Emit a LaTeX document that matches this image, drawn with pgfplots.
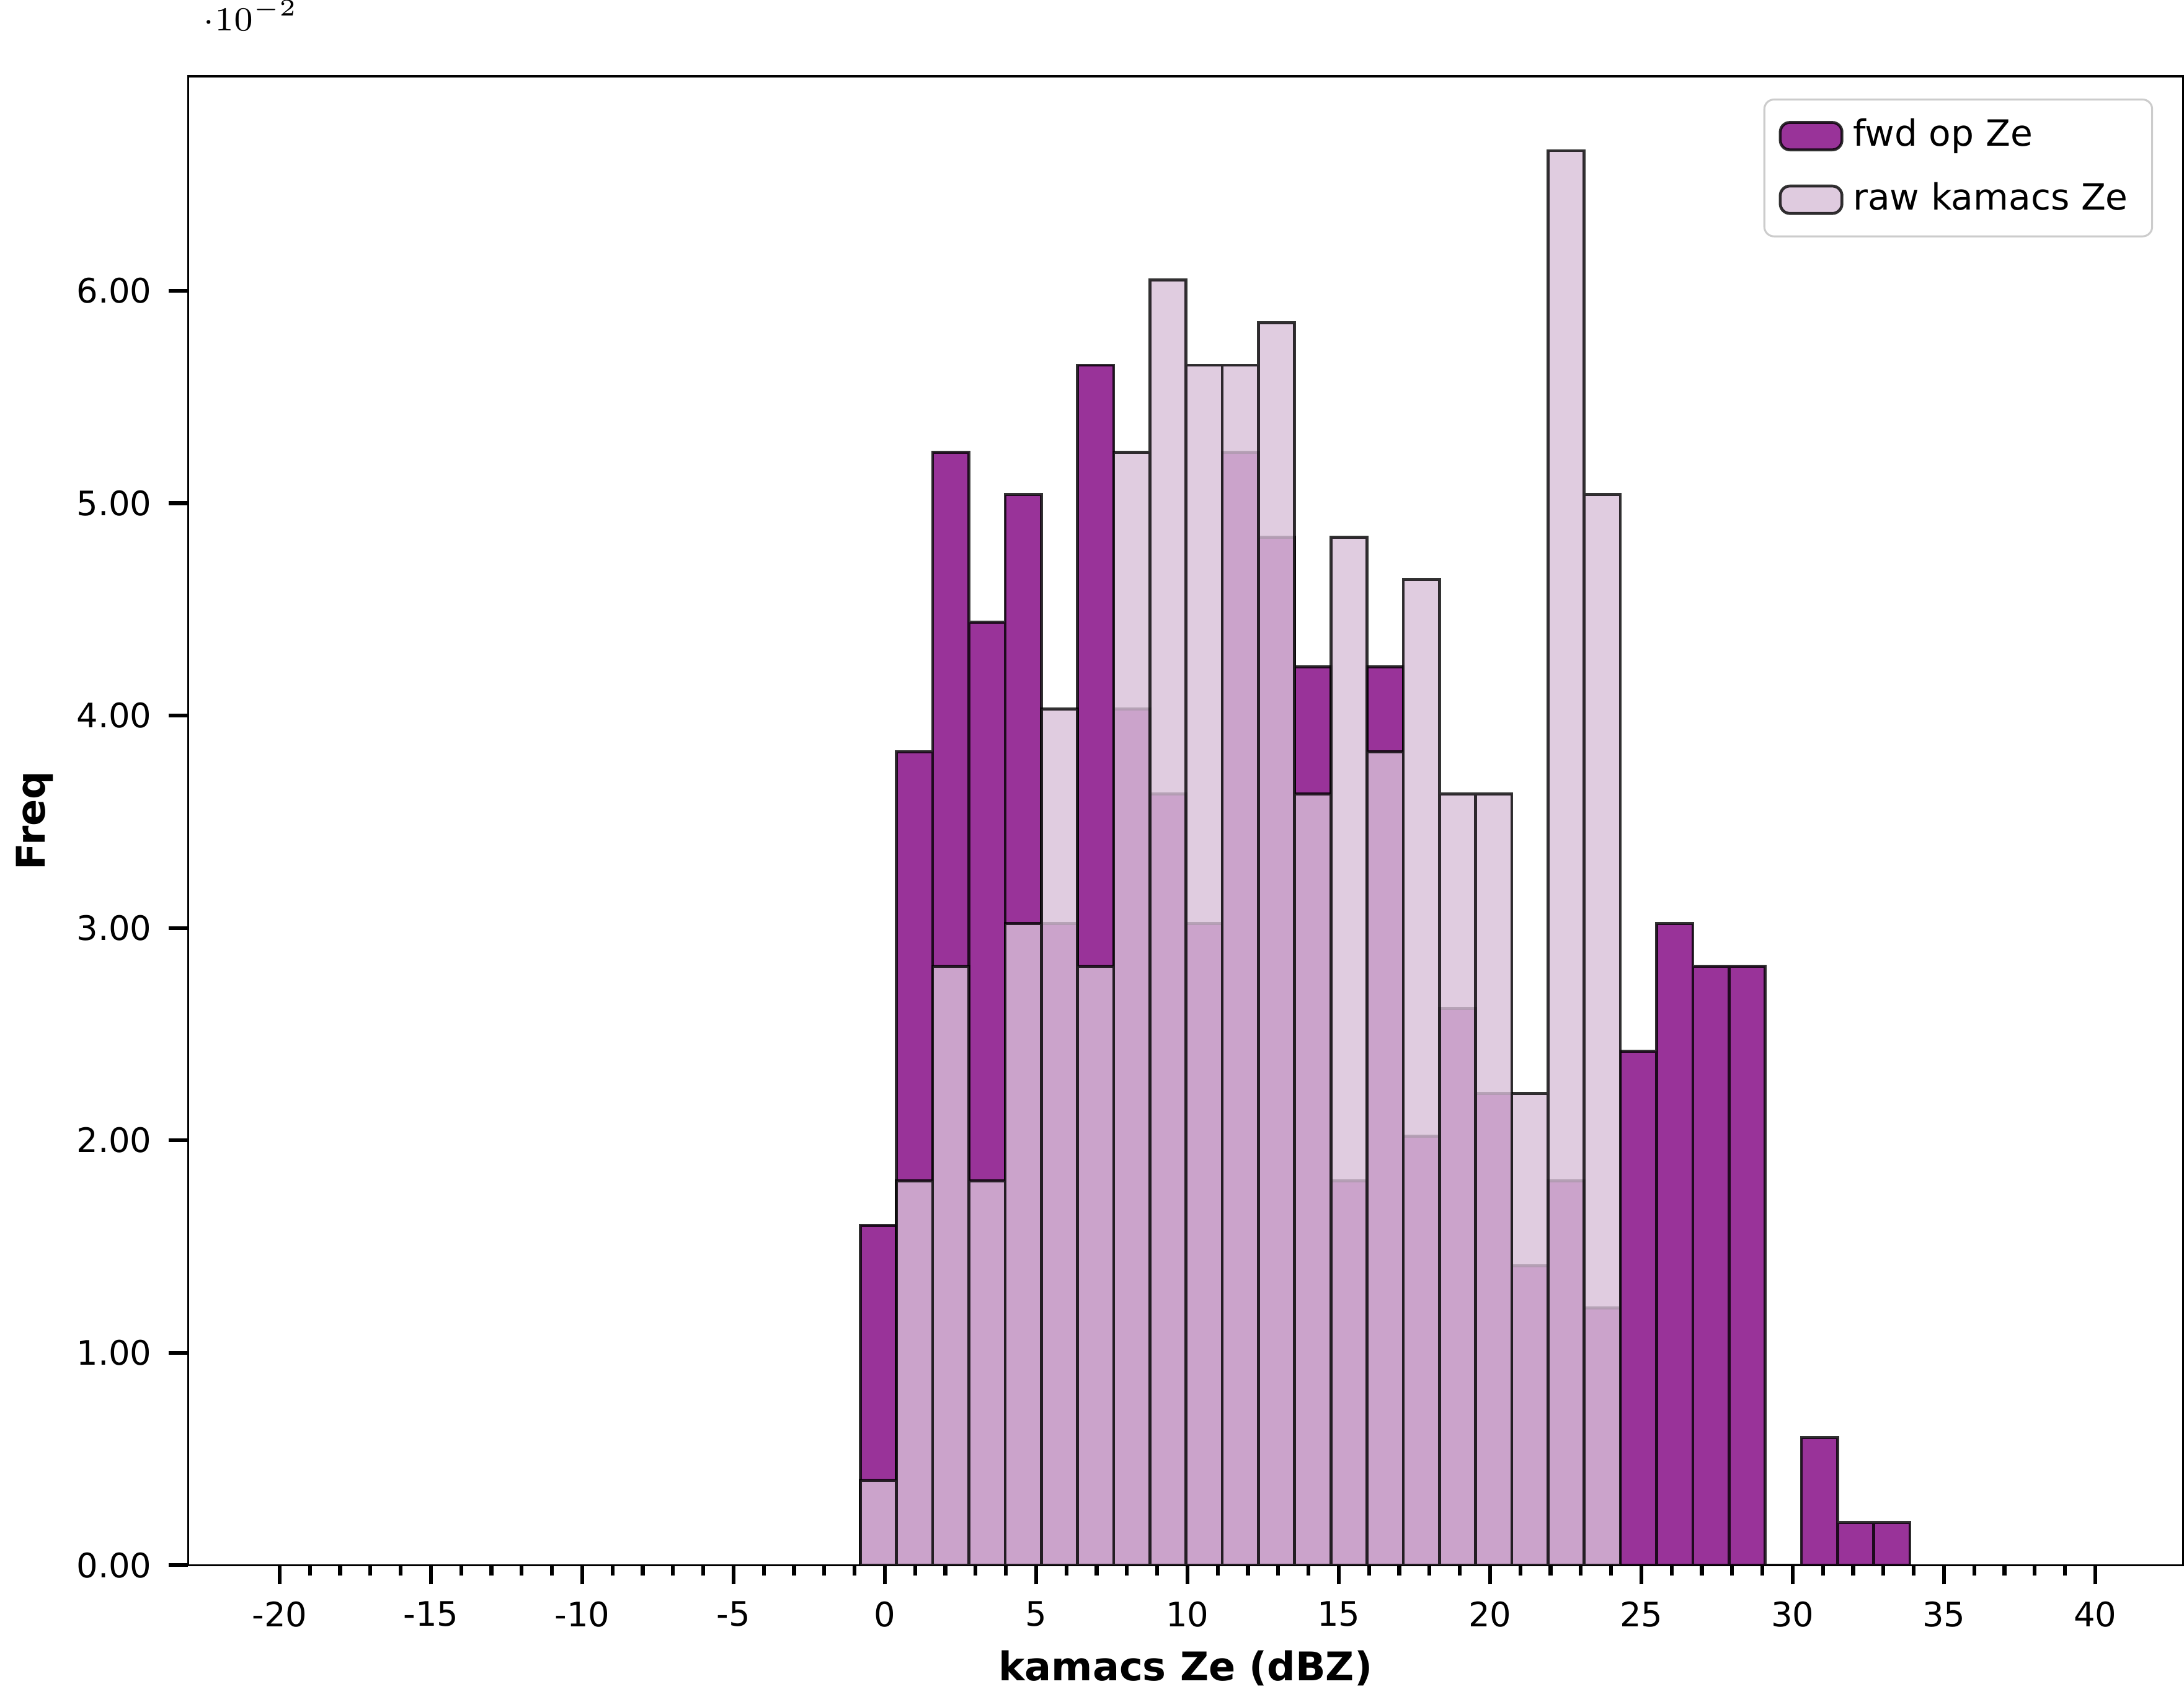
\documentclass[border=0pt]{standalone}
\usepackage{pgfplots}
\pgfplotsset{compat=1.18}
\usepackage{fontspec}
\setmainfont{DejaVu Sans}
\definecolor{fwdc}{HTML}{800080}
\definecolor{rawc}{HTML}{D8BFD8}
\begin{document}
\begin{tikzpicture}
\begin{axis}[
 scale only axis, width=414pt, height=309pt,
 xmin=-23.03, xmax=42.9, ymin=0, ymax=0.0701,
 xtick={-20,-15,...,40}, minor x tick num=4,
 ytick={0,0.01,0.02,0.03,0.04,0.05,0.06},
 yticklabel style={/pgf/number format/fixed, /pgf/number format/fixed zerofill, /pgf/number format/precision=2},
 /pgf/number format/assume math mode=true,
 tick align=outside, tick pos=left,
 major tick length=4pt, minor tick length=2.2pt,
 every tick/.style={black, line width=0.8pt},
 tick label style={font=\fontsize{7}{8}\selectfont},
 xlabel={\textbf{kamacs Ze (dBZ)}}, ylabel={\textbf{Freq}},
 label style={font=\fontsize{8.2}{9}\selectfont},
 xlabel style={yshift=2pt}, ylabel style={yshift=-2pt},
 bar interval width=1, bar interval shift=0.5,
 legend style={at={(0.985,0.985)}, anchor=north east, rounded corners=2pt, draw=black!20,
   font=\fontsize{7.5}{9}\selectfont, row sep=2pt},
 legend cell align=left,
 legend image code/.code={\draw[#1] (0cm,-0.1cm) rectangle (0.45cm,0.1cm);},
]
\addplot[ybar interval, fill=fwdc, fill opacity=0.8, draw=black, draw opacity=0.8, line width=0.6pt] coordinates {
(-0.81,0.016)(0.386,0.0383)(1.582,0.0524)(2.778,0.0444)(3.974,0.0504)(5.17,0.0302)(6.366,0.0565)(7.562,0.0403)(8.758,0.0363)(9.954,0.0302)(11.15,0.0524)(12.346,0.0484)(13.542,0.0423)(14.738,0.0181)(15.934,0.0423)(17.13,0.0202)(18.326,0.0262)(19.522,0.0222)(20.718,0.0141)(21.914,0.0181)(23.11,0.0121)(24.306,0.0242)(25.502,0.0302)(26.698,0.0282)(27.894,0.0282)(29.09,0)(30.286,0.006)(31.482,0.002)(32.678,0.002)(33.874,0.002)};
\addlegendentry{fwd op Ze}
\addplot[ybar interval, fill=rawc, fill opacity=0.8, draw=black, draw opacity=0.8, line width=0.6pt] coordinates {
(-0.81,0.004)(0.386,0.0181)(1.582,0.0282)(2.778,0.0181)(3.974,0.0302)(5.17,0.0403)(6.366,0.0282)(7.562,0.0524)(8.758,0.0605)(9.954,0.0565)(11.15,0.0565)(12.346,0.0585)(13.542,0.0363)(14.738,0.0484)(15.934,0.0383)(17.13,0.0464)(18.326,0.0363)(19.522,0.0363)(20.718,0.0222)(21.914,0.0666)(23.11,0.0504)(24.306,0.0504)};
\addlegendentry{raw kamacs Ze}
\end{axis}
\end{tikzpicture}
\end{document}
